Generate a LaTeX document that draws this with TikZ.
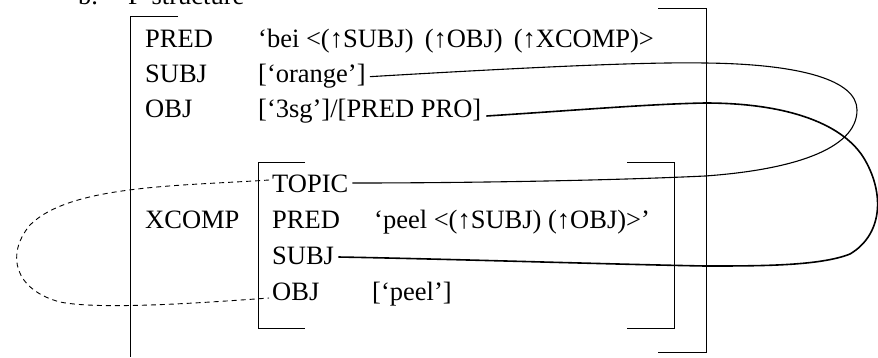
\documentclass[tikz,border=0pt]{standalone}
\usepackage{fontspec}
\setmainfont{Liberation Serif}
\begin{document}
\begin{tikzpicture}[x=1pt,y=-1pt,
  txt/.style={anchor=base west,inner sep=0pt,font=\fontsize{26.5}{30}\selectfont},
  brk/.style={line width=1pt},
  link/.style={line width=1.1pt},
  thick link/.style={line width=1.6pt},
  dlink/.style={line width=0.9pt,dash pattern=on 5pt off 4pt}]
\useasboundingbox (0,0) rectangle (878,357);
\clip (0,0) rectangle (878,357);
% title (clipped at top)
\node[txt] (title) at (78,4) {b.\hspace{30pt}F-structure};
% outer brackets
\draw[brk] (178,16) -- (130,16) -- (130,357);
\draw[brk] (658,8) -- (706,8) -- (706,352) -- (658,352);
% inner brackets
\draw[brk] (305,162) -- (258,162) -- (258,328) -- (305,328);
\draw[brk] (627,162) -- (674,162) -- (674,328) -- (627,328);
% outer rows
\node[txt] (pred) at (145,47) {PRED};
\node[txt] (predv) at (258,47) {‘bei <(↑SUBJ)\ \,(↑OBJ)\ \,(↑XCOMP)>};
\node[txt] (subj) at (145,82) {SUBJ};
\node[txt] (subjv) at (258,82) {[‘orange’]};
\node[txt] (obj) at (145,117) {OBJ};
\node[txt] (objv) at (258,117) {[‘3sg’]/[PRED PRO]};
\node[txt] (xcomp) at (145,228) {XCOMP};
% inner rows
\node[txt] (topic) at (272,192) {TOPIC};
\node[txt] (ipred) at (272,228) {PRED};
\node[txt] (ipredv) at (374,228) {‘peel <(↑SUBJ) (↑OBJ)>’};
\node[txt] (isubj) at (272,264) {SUBJ};
\node[txt] (iobj) at (272,300) {OBJ};
\node[txt] (iobjv) at (372,300) {[‘peel’]};
% links
\draw[link] ([xshift=4pt,yshift=-1pt]subjv.east) .. controls (550,66) and (650,62) .. (705,63)
  .. controls (800,64) and (857,80) .. (857,110)
  .. controls (857,150) and (790,170) .. (705,176)
  .. controls (600,181) and (450,183) .. ([xshift=4pt]topic.east |- 0,183);
\draw[thick link] ([xshift=5pt]objv.east |- 0,116) .. controls (580,110) and (650,104) .. (705,103)
  .. controls (790,103) and (845,125) .. (865,160)
  .. controls (885,195) and (882,235) .. (850,254)
  .. controls (820,266) and (760,266) .. (705,266)
  .. controls (600,264) and (450,259) .. ([xshift=4pt]isubj.east |- 0,257);
\draw[dlink] ([xshift=-3pt]topic.west |- 0,180) .. controls (180,186) and (70,185) .. (30,225)
  .. controls (5,255) and (15,290) .. (60,302)
  .. controls (100,310) and (200,303) .. ([xshift=-3pt]iobj.west |- 0,298);
\end{tikzpicture}
\end{document}
